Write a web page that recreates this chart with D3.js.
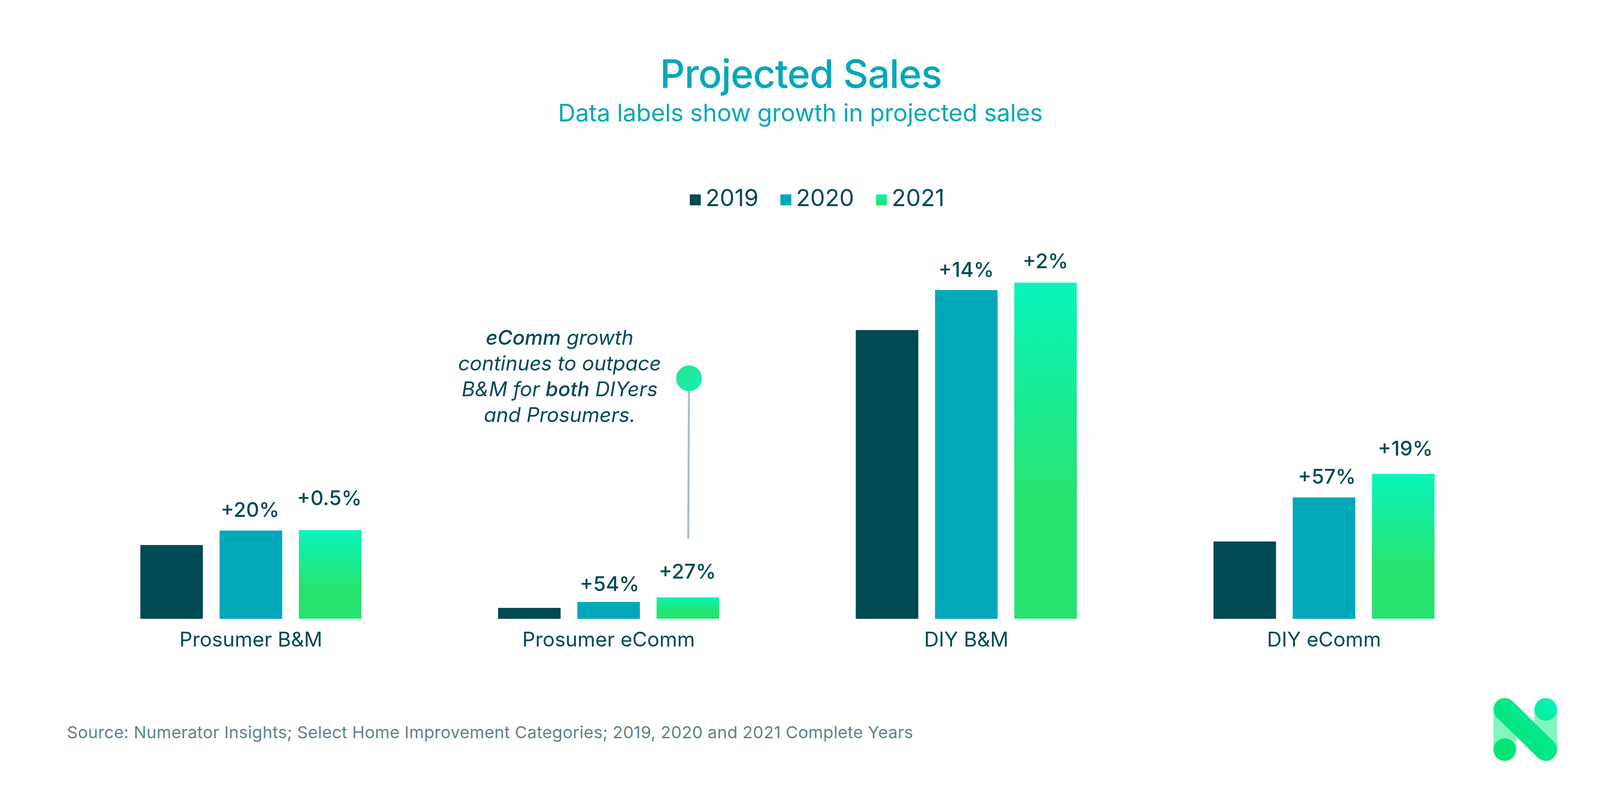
<!DOCTYPE html>
<html>
<head>
<meta charset="utf-8">
<script src="https://cdn.jsdelivr.net/npm/d3@7"></script>
<style>
  html, body { margin: 0; padding: 0; background: #fff; }
  svg { display: block; }
  text { font-family: Inter, Lato, sans-serif; }
</style>
</head>
<body>
<svg id="chart"></svg>
<script>
const categories = ["Prosumer B&M", "Prosumer eComm", "DIY B&M", "DIY eComm"];
const years = ["2019", "2020", "2021"];

//index values, tallest bar = 100
const sales2019 = [21.95, 3.25, 85.9, 23.0];
const sales2020 = [26.25, 5.0, 97.8, 36.1];
const sales2021 = [26.4, 6.4, 100, 43.1];

const growth2020 = ["+20%", "+54%", "+14%", "+57%"];
const growth2021 = ["+0.5%", "+27%", "+2%", "+19%"];

const noteLines = [
  [["eComm", 500], [" growth", 400]],
  [["continues to outpace", 400]],
  [["B&M for ", 400], ["both", 500], [" DIYers", 400]],
  [["and Prosumers.", 400]],
];
const titleText = "Projected Sales";
const subtitleText = "Data labels show growth in projected sales";
const sourceText =
  "Source: Numerator Insights; Select Home Improvement Categories; 2019, 2020 and 2021 Complete Years";

//the browser window can come out narrower than the 4400 of the reference,
//so x positions are measured in reference pixels and scaled by sx
const width = window.innerWidth;
const height = 2044;
const sx = width / 4400;
const baseY = 1585;
const topY = 724;

const dark = "#004a54";
const teal = "#00a8ba";

//the data labels were placed by hand in the original: [dx, lift above the bar]
const labelNudge2020 = [[-2.5, 35], [2.5, 28], [-0.5, 34], [8, 35.5]];
const labelNudge2021 = [[-2.5, 64], [-1.5, 48], [-0.5, 37], [5.5, 47]];

const svg = d3.select("#chart").attr("width", width).attr("height", height);

const defs = svg.append("defs");
const barGrad = defs
  .append("linearGradient")
  .attr("id", "barGrad")
  .attr("x1", 0)
  .attr("y1", 0)
  .attr("x2", 0)
  .attr("y2", 1);
barGrad.append("stop").attr("offset", "0%").attr("stop-color", "#09f5bb");
barGrad.append("stop").attr("offset", "65%").attr("stop-color", "#27e36f");

const dotGrad = defs
  .append("linearGradient")
  .attr("id", "dotGrad")
  .attr("x1", 0)
  .attr("y1", 0)
  .attr("x2", 1)
  .attr("y2", 1);
dotGrad.append("stop").attr("offset", "0%").attr("stop-color", "#27e38f");
dotGrad.append("stop").attr("offset", "100%").attr("stop-color", "#12f2b4");

//logo shapes are drawn around their own centre, so they stay round
const logoGrad = defs
  .append("linearGradient")
  .attr("id", "logoGrad")
  .attr("gradientUnits", "userSpaceOnUse")
  .attr("x1", -81)
  .attr("y1", 81)
  .attr("x2", 81)
  .attr("y2", -81);
logoGrad.append("stop").attr("offset", "0%").attr("stop-color", "#00e46e");
logoGrad.append("stop").attr("offset", "55%").attr("stop-color", "#04e888");
logoGrad.append("stop").attr("offset", "100%").attr("stop-color", "#0af5c0");

const x0 = d3
  .scaleBand()
  .domain(categories)
  .range([386 * sx, 3945 * sx])
  .paddingInner(0.382)
  .paddingOuter(0);
const x1 = d3
  .scaleBand()
  .domain(years)
  .range([0, x0.bandwidth()])
  .paddingInner(0.211)
  .paddingOuter(0);
const y = d3.scaleLinear().domain([0, 100]).range([baseY, topY]);

const fills = { 2019: dark, 2020: teal, 2021: "url(#barGrad)" };
const sales = { 2019: sales2019, 2020: sales2020, 2021: sales2021 };

//Title block
svg
  .append("text")
  .attr("x", 2203 * sx)
  .attr("y", 225)
  .attr("text-anchor", "middle")
  .attr("fill", teal)
  .attr("font-size", 100)
  .attr("font-weight", 500)
  .attr("textLength", 776 * sx)
  .text(titleText);
svg
  .append("text")
  .attr("x", 2201 * sx)
  .attr("y", 311)
  .attr("text-anchor", "middle")
  .attr("fill", teal)
  .attr("font-size", 62)
  .attr("textLength", 1333 * sx)
  .text(subtitleText);

//Legend
const legendSwatchX = [1897, 2146, 2409];
const legend = svg
  .selectAll("g.legend")
  .data(years)
  .enter()
  .append("g")
  .attr("class", "legend")
  .attr("transform", (d, i) => `translate(${legendSwatchX[i] * sx}, 498)`);
legend
  .append("rect")
  .attr("width", 28)
  .attr("height", 28)
  .attr("fill", (d) => fills[d]);
legend
  .append("text")
  .attr("x", 43 * sx)
  .attr("y", 30)
  .attr("fill", dark)
  .attr("font-size", 60)
  .text((d) => d);

//Bars
const groups = svg
  .selectAll("g.group")
  .data(categories)
  .enter()
  .append("g")
  .attr("class", "group")
  .attr("transform", (d) => `translate(${x0(d)}, 0)`);

groups
  .selectAll("rect")
  .data((d, i) => years.map((yr) => ({ yr, value: sales[yr][i] })))
  .enter()
  .append("rect")
  .attr("x", (d) => x1(d.yr))
  .attr("y", (d) => y(d.value))
  .attr("width", x1.bandwidth())
  .attr("height", (d) => baseY - y(d.value))
  .attr("fill", (d) => fills[d.yr]);

//Data labels
function drawLabels(yr, labels, nudge) {
  groups
    .append("text")
    .attr("x", (d) => x1(yr) + x1.bandwidth() / 2 + nudge[categories.indexOf(d)][0] * sx)
    .attr("y", (d) => y(sales[yr][categories.indexOf(d)]) - nudge[categories.indexOf(d)][1])
    .attr("text-anchor", "middle")
    .attr("fill", dark)
    .attr("font-size", 52)
    .attr("font-weight", 500)
    .text((d) => labels[categories.indexOf(d)]);
}
drawLabels("2020", growth2020, labelNudge2020);
drawLabels("2021", growth2021, labelNudge2021);

//Category axis
const axis = svg
  .append("g")
  .attr("transform", `translate(0, ${baseY})`)
  .call(d3.axisBottom(x0).tickSize(0));
axis.select(".domain").remove();
axis
  .selectAll("text")
  .attr("y", 71)
  .attr("dy", 0)
  .attr("fill", dark)
  .style("font-family", "Inter, Lato, sans-serif")
  .style("font-size", "52px");

//Callout
const stemX = x0("Prosumer eComm") + x1("2021") + x1.bandwidth() / 2 + 2;
svg
  .append("line")
  .attr("x1", stemX + 1)
  .attr("y1", 969)
  .attr("x2", stemX - 1)
  .attr("y2", 1379)
  .attr("stroke", "#a3c0c4")
  .attr("stroke-width", 5);
svg
  .append("circle")
  .attr("cx", stemX + 1)
  .attr("cy", 969)
  .attr("r", 33)
  .attr("fill", "url(#dotGrad)");

const note = svg
  .append("text")
  .attr("text-anchor", "middle")
  .attr("fill", dark)
  .attr("font-size", 52)
  .attr("font-style", "italic");
noteLines.forEach((line, i) => {
  line.forEach((part, j) => {
    const t = note.append("tspan").attr("font-weight", part[1]).text(part[0]);
    if (j === 0) t.attr("x", 1539 * sx).attr("y", 883 + i * 66);
  });
});

//Source
svg
  .append("text")
  .attr("x", 184 * sx)
  .attr("y", 1891)
  .attr("fill", "#5f8489")
  .attr("font-size", 43)
  .attr("textLength", 2327 * sx)
  .text(sourceText);

//Logo
const logo = svg
  .append("g")
  .attr("transform", `translate(${4194.5 * sx}, 1868.5)`);
logo
  .selectAll("rect")
  .data([-81.5, 23.5])
  .enter()
  .append("rect")
  .attr("x", (d) => d)
  .attr("y", -51.5)
  .attr("width", 58)
  .attr("height", 103)
  .attr("fill", "#84f5c0");
logo
  .append("line")
  .attr("x1", -52.5)
  .attr("y1", -51.5)
  .attr("x2", 52.5)
  .attr("y2", 51.5)
  .attr("stroke", "url(#logoGrad)")
  .attr("stroke-width", 58)
  .attr("stroke-linecap", "round");
logo
  .append("circle")
  .attr("cx", -52.5)
  .attr("cy", 51.5)
  .attr("r", 29)
  .attr("fill", "url(#logoGrad)");
logo
  .append("circle")
  .attr("cx", 52.5)
  .attr("cy", -51.5)
  .attr("r", 29)
  .attr("fill", "url(#logoGrad)");
</script>
</body>
</html>
